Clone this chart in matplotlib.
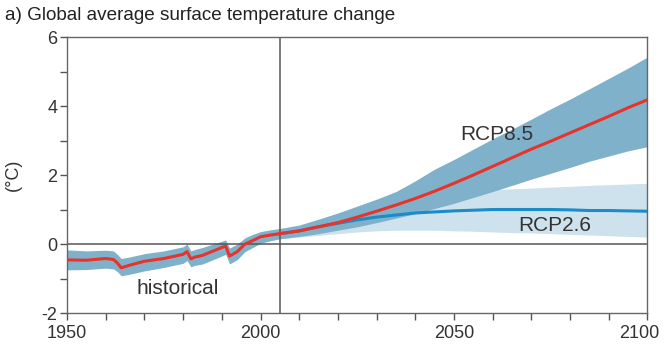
import matplotlib
matplotlib.use("Agg")
from matplotlib import pyplot as plt
from matplotlib import transforms
from matplotlib.ticker import MultipleLocator, FixedLocator

plt.rcParams['font.family'] = ['Liberation Sans', 'DejaVu Sans']
plt.rcParams['axes.unicode_minus'] = False

# historical run (multi-model mean and spread)
hist_years = [1950, 1955, 1960, 1962, 1963, 1964, 1966, 1970, 1975, 1980, 1981,
              1982, 1983, 1985, 1990, 1991, 1992, 1994, 1996, 1998, 2000, 2002, 2005]
hist_mean = [-0.46, -0.47, -0.42, -0.45, -0.55, -0.69, -0.62, -0.5, -0.42, -0.3, -0.22,
             -0.43, -0.38, -0.33, -0.1, -0.06, -0.35, -0.22, 0.0, 0.1, 0.21, 0.25, 0.3]
hist_lo = [-0.75, -0.74, -0.7, -0.72, -0.8, -0.92, -0.88, -0.78, -0.68, -0.56, -0.48,
           -0.66, -0.62, -0.58, -0.35, -0.3, -0.58, -0.45, -0.22, -0.1, 0.02, 0.08, 0.15]
hist_hi = [-0.17, -0.2, -0.18, -0.2, -0.3, -0.42, -0.38, -0.28, -0.2, -0.08, 0.0,
           -0.2, -0.16, -0.1, 0.08, 0.12, -0.12, 0.0, 0.18, 0.28, 0.36, 0.4, 0.45]

# scenario projections
fut_years = [2005, 2010, 2015, 2020, 2025, 2030, 2035, 2040, 2045, 2050,
             2055, 2060, 2065, 2070, 2075, 2080, 2085, 2090, 2095, 2100]
rcp85_mean = [0.3, 0.38, 0.5, 0.62, 0.78, 0.95, 1.13, 1.32, 1.53, 1.76,
              2.0, 2.25, 2.5, 2.75, 2.98, 3.22, 3.46, 3.7, 3.95, 4.18]
rcp85_hi = [0.45, 0.55, 0.72, 0.9, 1.1, 1.3, 1.52, 1.83, 2.17, 2.45,
            2.75, 3.05, 3.33, 3.62, 3.92, 4.2, 4.5, 4.8, 5.1, 5.42]
rcp85_lo = [0.15, 0.22, 0.3, 0.4, 0.5, 0.62, 0.75, 0.88, 1.03, 1.18,
            1.35, 1.52, 1.7, 1.88, 2.05, 2.22, 2.4, 2.55, 2.7, 2.82]
rcp26_mean = [0.3, 0.38, 0.5, 0.6, 0.7, 0.78, 0.84, 0.9, 0.93, 0.96,
              0.98, 1.0, 1.0, 1.0, 1.0, 0.99, 0.97, 0.97, 0.96, 0.95]
rcp26_hi = [0.42, 0.52, 0.65, 0.78, 0.9, 1.02, 1.15, 1.25, 1.35, 1.45,
            1.52, 1.57, 1.6, 1.62, 1.65, 1.67, 1.7, 1.72, 1.74, 1.76]
rcp26_lo = [0.15, 0.2, 0.25, 0.3, 0.35, 0.38, 0.4, 0.4, 0.4, 0.38,
            0.37, 0.35, 0.33, 0.32, 0.3, 0.28, 0.26, 0.24, 0.22, 0.2]

dark_band = '#7fb1cb'
light_band = '#cde2ed'
txt = '#333333'

fig = plt.figure(figsize=(6.64, 3.44), dpi=100)
ax = fig.add_axes([0.101, 0.0901, 0.874, 0.8023])

ax.fill_between(fut_years, rcp26_lo, rcp26_hi, color=light_band, lw=0)
ax.fill_between(fut_years, rcp85_lo, rcp85_hi, color=dark_band, lw=0)
ax.fill_between(hist_years, hist_lo, hist_hi, color=dark_band, lw=0)

ax.axhline(0, color='#555555', lw=1.1, zorder=2)
ax.axvline(2005, color='#555555', lw=1.1, zorder=2)

ax.plot(fut_years, rcp26_mean, color='#1a8cc8', lw=2.2, zorder=3)
ax.plot(fut_years, rcp85_mean, color='#e8332a', lw=2.2, zorder=4)
ax.plot(hist_years, hist_mean, color='#e8332a', lw=2.2, zorder=4)

ax.text(2061, 3.16, 'RCP8.5', fontsize=15, color=txt, ha='center', va='center')
ax.text(2076, 0.55, 'RCP2.6', fontsize=15, color=txt, ha='center', va='center')
ax.text(1978.5, -1.28, 'historical', fontsize=15, color=txt, ha='center', va='center')

ax.set_xlim(1950, 2100)
ax.set_ylim(-2, 6)
ax.xaxis.set_major_locator(FixedLocator([1950, 2000, 2050, 2100]))
ax.xaxis.set_minor_locator(MultipleLocator(10))
ax.yaxis.set_major_locator(MultipleLocator(2))
ax.yaxis.set_minor_locator(MultipleLocator(1))
ax.tick_params(which='both', direction='out', colors='#555555', labelcolor=txt,
               labelsize=13, width=1, length=5)
ax.tick_params(axis='y', pad=2)
for s in ax.spines.values():
    s.set_color('#666666')
    s.set_linewidth(1)

# nudge the last year label so it stays inside the figure
fig.canvas.draw()
last = ax.get_xticklabels()[-1]
last.set_transform(last.get_transform() + transforms.ScaledTranslation(-6 / 72, 0, fig.dpi_scale_trans))

ax.set_ylabel('(°C)', fontsize=13, color=txt, labelpad=14)
fig.text(0.008, 0.955, 'a) Global average surface temperature change',
         fontsize=13.6, color='#222222', ha='left', va='center')

fig.savefig('out.png', dpi=100)
